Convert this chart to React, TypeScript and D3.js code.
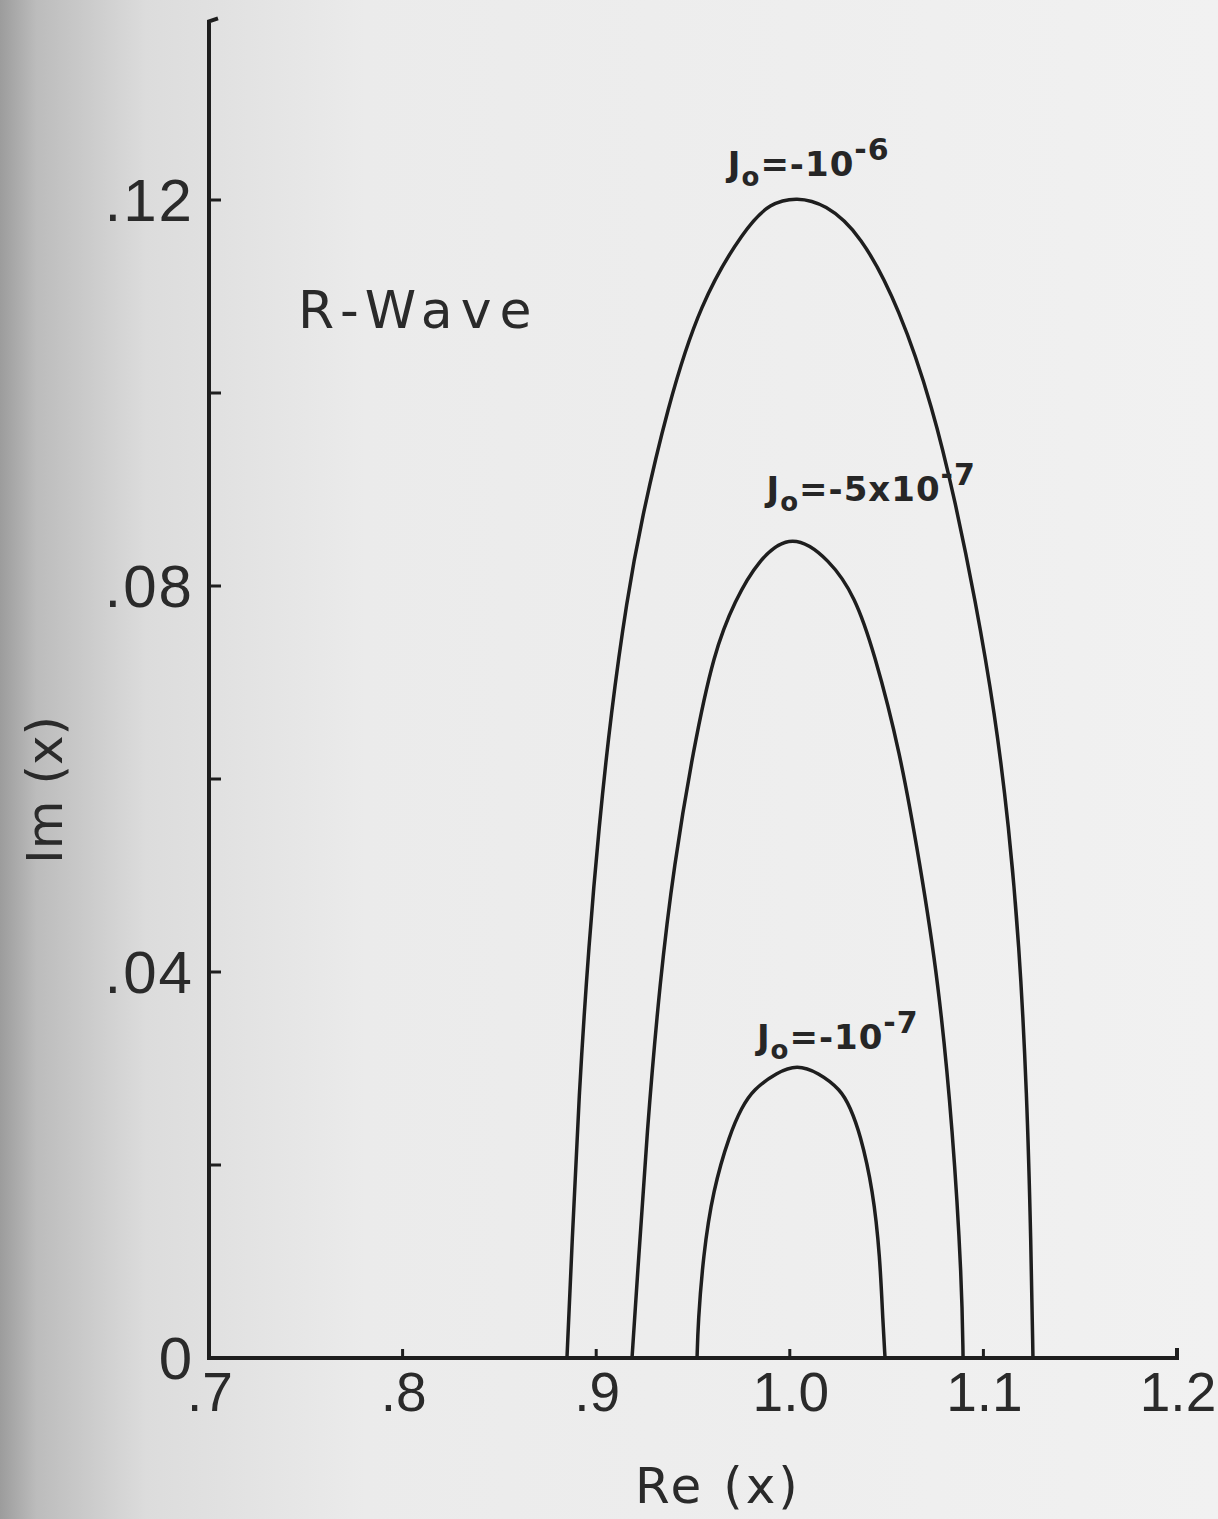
import React from "react";
import * as d3 from "d3";

// tick values and labels
const reTicks = [0.7, 0.8, 0.9, 1.0, 1.1, 1.2];
const reLabels = [".7", ".8", ".9", "1.0", "1.1", "1.2"];
const imTicks = [0, 0.02, 0.04, 0.06, 0.08, 0.1, 0.12];
const imLabels = ["0", "", ".04", "", ".08", "", ".12"];

// curves: [Re(x), Im(x)]
const curveJ6: [number, number][] = [
  [0.8849, 0], [0.8875, 0.0117], [0.8911, 0.0275], [0.8963, 0.0432], [0.9014, 0.055],
  [0.9076, 0.0668], [0.9159, 0.0787], [0.9231, 0.0866], [0.9366, 0.0984], [0.9536, 0.1094],
  [0.9769, 0.1171], [0.9898, 0.1197], [1.0037, 0.1203], [1.0182, 0.1196], [1.0363, 0.1166],
  [1.0569, 0.1087], [1.074, 0.0984], [1.0853, 0.0889], [1.0957, 0.0787], [1.106, 0.0668],
  [1.1132, 0.055], [1.1184, 0.0432], [1.1225, 0.0275], [1.1246, 0.0117], [1.1256, 0],
];
const curveJ5x7: [number, number][] = [
  [0.9185, 0], [0.9211, 0.0078], [0.9262, 0.0235], [0.933, 0.0393], [0.9402, 0.0511],
  [0.95, 0.0629], [0.9608, 0.0732], [0.9717, 0.0785], [0.9836, 0.0827], [1.0011, 0.0856],
  [1.0208, 0.0827], [1.0337, 0.0789], [1.0435, 0.0732], [1.0569, 0.0629], [1.0673, 0.0511],
  [1.0766, 0.0393], [1.0843, 0.0235], [1.0889, 0.0078], [1.0895, 0],
];
const curveJ7: [number, number][] = [
  [0.9521, 0], [0.9526, 0.0036], [0.9552, 0.0105], [0.9603, 0.0174], [0.9691, 0.0233],
  [0.9753, 0.026], [0.981, 0.0278], [0.9934, 0.0296], [1.0037, 0.0304], [1.0146, 0.0296],
  [1.0264, 0.0278], [1.0311, 0.026], [1.0363, 0.0233], [1.043, 0.0174], [1.0466, 0.0105],
  [1.0481, 0.0036], [1.0492, 0],
];

const curveNames = ["-10", "-5x10", "-10"];
const curveExps = ["-6", "-7", "-7"];
// label anchor (Re, Im) for each curve
const labelAt: [number, number][] = [[0.968, 0.1225], [0.988, 0.0888], [0.983, 0.032]];

const W = 1218;
const H = 1519;
const font = "'DejaVu Sans', sans-serif";
const numFont = "'Liberation Sans', Arial, sans-serif";

export default function App() {
  const x = d3.scaleLinear().domain([0.7, 1.2]).range([209, 1177]);
  const y = d3.scaleLinear().domain([0, 0.12]).range([1358, 200]);
  const line = d3
    .line<[number, number]>()
    .x((d) => x(d[0]))
    .y((d) => y(d[1]))
    .curve(d3.curveBasis);

  const curves = [curveJ6, curveJ5x7, curveJ7];
  const ink = "#1e1e1e";
  const yTop = y(0.1385);

  return (
    <svg width={W} height={H} style={{ position: "absolute", left: 0, top: 0 }}>
      <defs>
        <linearGradient id="paper" x1="0" x2="1" y1="0" y2="0">
          <stop offset="0" stopColor="#9c9c9c" />
          <stop offset="0.03" stopColor="#bcbcbc" />
          <stop offset="0.12" stopColor="#dcdcdc" />
          <stop offset="0.3" stopColor="#ebebeb" />
          <stop offset="1" stopColor="#f1f1f1" />
        </linearGradient>
      </defs>
      <rect width={W} height={H} fill="url(#paper)" />

      {/* axes */}
      <path
        d={`M${x(0.7) + 9},${yTop - 3} L${x(0.7)},${yTop} L${x(0.7)},${y(0)} L${x(1.2)},${y(0)} L${x(1.2)},${y(0) - 10}`}
        fill="none"
        stroke={ink}
        strokeWidth={4}
      />
      {imTicks.slice(1).map((t) => (
        <line key={t} x1={x(0.7)} x2={x(0.7) + 12} y1={y(t)} y2={y(t)} stroke={ink} strokeWidth={3} />
      ))}
      {reTicks.slice(1, -1).map((t) => (
        <line key={t} x1={x(t)} x2={x(t)} y1={y(0)} y2={y(0) - 9} stroke={ink} strokeWidth={3} />
      ))}

      {reTicks.map((t, i) => (
        <text key={t} x={x(t) + 1} y={1411} fontSize={55} fontFamily={numFont} fill="#2a2a2a" textAnchor="middle">
          {reLabels[i]}
        </text>
      ))}
      {imTicks.map((t, i) =>
        imLabels[i] ? (
          <text key={t} x={194} y={y(t) + 21} fontSize={60} fontFamily={numFont} fill="#2a2a2a" textAnchor="end" letterSpacing={2}>
            {imLabels[i]}
          </text>
        ) : null
      )}

      <text x={718} y={1503} fontSize={50} fontFamily={font} fill="#2a2a2a" textAnchor="middle" letterSpacing={3}>
        Re (x)
      </text>
      <text
        transform="translate(62,790) rotate(-90)"
        fontSize={50}
        fontFamily={font}
        fill="#2a2a2a"
        textAnchor="middle"
      >
        Im (x)
      </text>
      <text x={298} y={328} fontSize={52} fontFamily={font} fill="#2a2a2a" letterSpacing={8}>
        R-Wave
      </text>

      {curves.map((c, i) => (
        <path key={i} d={line(c) ?? ""} fill="none" stroke={ink} strokeWidth={3.5} strokeLinejoin="round" />
      ))}

      {labelAt.map((p, i) => (
        <text key={i} x={x(p[0])} y={y(p[1])} fontSize={34} fontWeight="bold" fontFamily={font} fill="#262626" letterSpacing={1}>
          J
          <tspan fontSize={26} dy={10}>o</tspan>
          <tspan dy={-10}>{"=" + curveNames[i]}</tspan>
          <tspan fontSize={30} dy={-16}>{curveExps[i]}</tspan>
        </text>
      ))}
    </svg>
  );
}
